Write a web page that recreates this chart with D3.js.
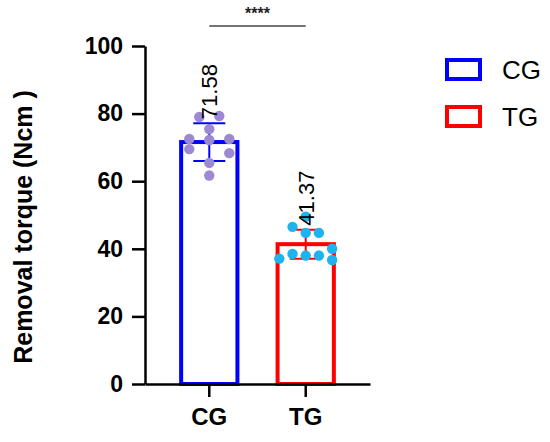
<!DOCTYPE html>
<html>
<head>
<meta charset="utf-8">
<script src="https://cdn.jsdelivr.net/npm/d3@7"></script>
<style>
  html, body { margin: 0; padding: 0; background: #fff; }
  svg { display: block; }
  text { font-family: Arial, "Liberation Sans", Helvetica, sans-serif; }
</style>
</head>
<body>
<svg id="chart" width="550" height="442"></svg>
<script>
// ---- data ----
const categories = ["CG", "TG"];
const means = [71.58, 41.37];
const sds = [5.6, 4.3];
const meanLabels = ["71.58", "41.37"];
const barColors = ["#0000ff", "#ff0000"];
const dotColors = ["#9d89d2", "#1db3ef"];
const cgValues = [79.0, 79.3, 75.4, 72.5, 72.2, 72.5, 69.5, 68.3, 65.4, 61.7];
const cgLanes  = [-1, 1, 0, -2, 0, 2, -2, 2, 0, 0];
const tgValues = [49.5, 46.5, 44.7, 44.7, 40.0, 37.1, 38.5, 38.0, 38.0, 36.7];
const tgLanes  = [0, -1, 0, 1, 2, -2, -1, 0, 1, 2];
const yTicks = [0, 20, 40, 60, 80, 100];
const yTitle = "Removal torque (Ncm )";
const sigLabel = "****";

const groupValues = [cgValues, tgValues];
const groupLanes = [cgLanes, tgLanes];
const laneSpacing = [10, 13.2];

(function () {
// ---- layout ----
const svg = d3.select("#chart");
const mLeft = 145, mRight = 370, mTop = 46, mBottom = 384;

const x = d3.scaleBand().domain(categories).range([mLeft, mRight])
  .paddingInner(0.375).paddingOuter(0.354);
const y = d3.scaleLinear().domain([0, 100]).range([mBottom, mTop]);

// bars
const barStroke = 4;
svg.append("g").selectAll("rect").data(categories).join("rect")
  .attr("x", d => x(d) + barStroke / 2)
  .attr("y", (d, i) => y(means[i]))
  .attr("width", x.bandwidth() - barStroke)
  .attr("height", (d, i) => y(0) - y(means[i]))
  .attr("fill", "#fff")
  .attr("stroke", (d, i) => barColors[i])
  .attr("stroke-width", barStroke);

// error bars
const capHalf = 16;
const eb = svg.append("g");
categories.forEach((c, i) => {
  const cx = x(c) + x.bandwidth() / 2;
  const g = eb.append("g").attr("stroke", barColors[i]).attr("stroke-width", 2);
  g.append("line").attr("x1", cx).attr("x2", cx)
    .attr("y1", y(means[i] - sds[i])).attr("y2", y(means[i] + sds[i]));
  [means[i] - sds[i], means[i] + sds[i]].forEach(v => {
    g.append("line").attr("x1", cx - capHalf).attr("x2", cx + capHalf)
      .attr("y1", y(v)).attr("y2", y(v));
  });
});

// dots
categories.forEach((c, i) => {
  const cx = x(c) + x.bandwidth() / 2;
  svg.append("g").selectAll("circle").data(groupValues[i]).join("circle")
    .attr("cx", (d, j) => cx + groupLanes[i][j] * laneSpacing[i])
    .attr("cy", d => y(d))
    .attr("r", 5.2)
    .attr("fill", dotColors[i]);
});

// mean labels
categories.forEach((c, i) => {
  const cx = x(c) + x.bandwidth() / 2 + 8;
  const ly = y(means[i] + sds[i]) - 4;
  svg.append("text")
    .attr("transform", `translate(${cx},${ly}) rotate(-90)`)
    .attr("text-anchor", "start")
    .attr("font-size", 22)
    .attr("fill", "#000")
    .text(meanLabels[i]);
});

// axes
const yAxis = svg.append("g").attr("transform", `translate(${mLeft},0)`)
  .call(d3.axisLeft(y).tickValues(yTicks).tickSize(13).tickSizeOuter(0).tickPadding(9));
const xAxis = svg.append("g").attr("transform", `translate(0,${mBottom})`)
  .call(d3.axisBottom(x).tickSize(13).tickSizeOuter(0).tickPadding(11));
[yAxis, xAxis].forEach(a => {
  a.select(".domain").attr("stroke", "#000").attr("stroke-width", 2.5);
  a.selectAll(".tick line").attr("stroke", "#000").attr("stroke-width", 2.5);
  a.selectAll(".tick text").attr("fill", "#000").attr("font-weight", "bold")
    .attr("font-family", "Arial, 'Liberation Sans', sans-serif");
});
yAxis.selectAll(".tick text").attr("font-size", 23);
xAxis.selectAll(".tick text").attr("font-size", 24);

// y title
svg.append("text")
  .attr("transform", `translate(32,${(mTop + mBottom) / 2 + 12}) rotate(-90)`)
  .attr("text-anchor", "middle")
  .attr("font-size", 25)
  .attr("font-weight", "bold")
  .attr("fill", "#000")
  .text(yTitle);

// significance
const c0 = x(categories[0]) + x.bandwidth() / 2;
const c1 = x(categories[1]) + x.bandwidth() / 2;
svg.append("line").attr("x1", c0).attr("x2", c1).attr("y1", 26).attr("y2", 26)
  .attr("stroke", "#444").attr("stroke-width", 1.5);
svg.append("text").attr("x", (c0 + c1) / 2).attr("y", 19)
  .attr("text-anchor", "middle").attr("font-size", 16).attr("font-weight", "bold")
  .attr("fill", "#222").text(sigLabel);

// legend
const legend = svg.append("g");
categories.forEach((c, i) => {
  const ly = 60 + i * 47;
  legend.append("rect").attr("x", 447).attr("y", ly).attr("width", 33).attr("height", 19)
    .attr("fill", "#fff").attr("stroke", barColors[i]).attr("stroke-width", 4);
  legend.append("text").attr("x", 502).attr("y", ly + 9.5)
    .attr("dominant-baseline", "central").attr("font-size", 26).attr("fill", "#000")
    .text(c);
});
})();
</script>
</body>
</html>
